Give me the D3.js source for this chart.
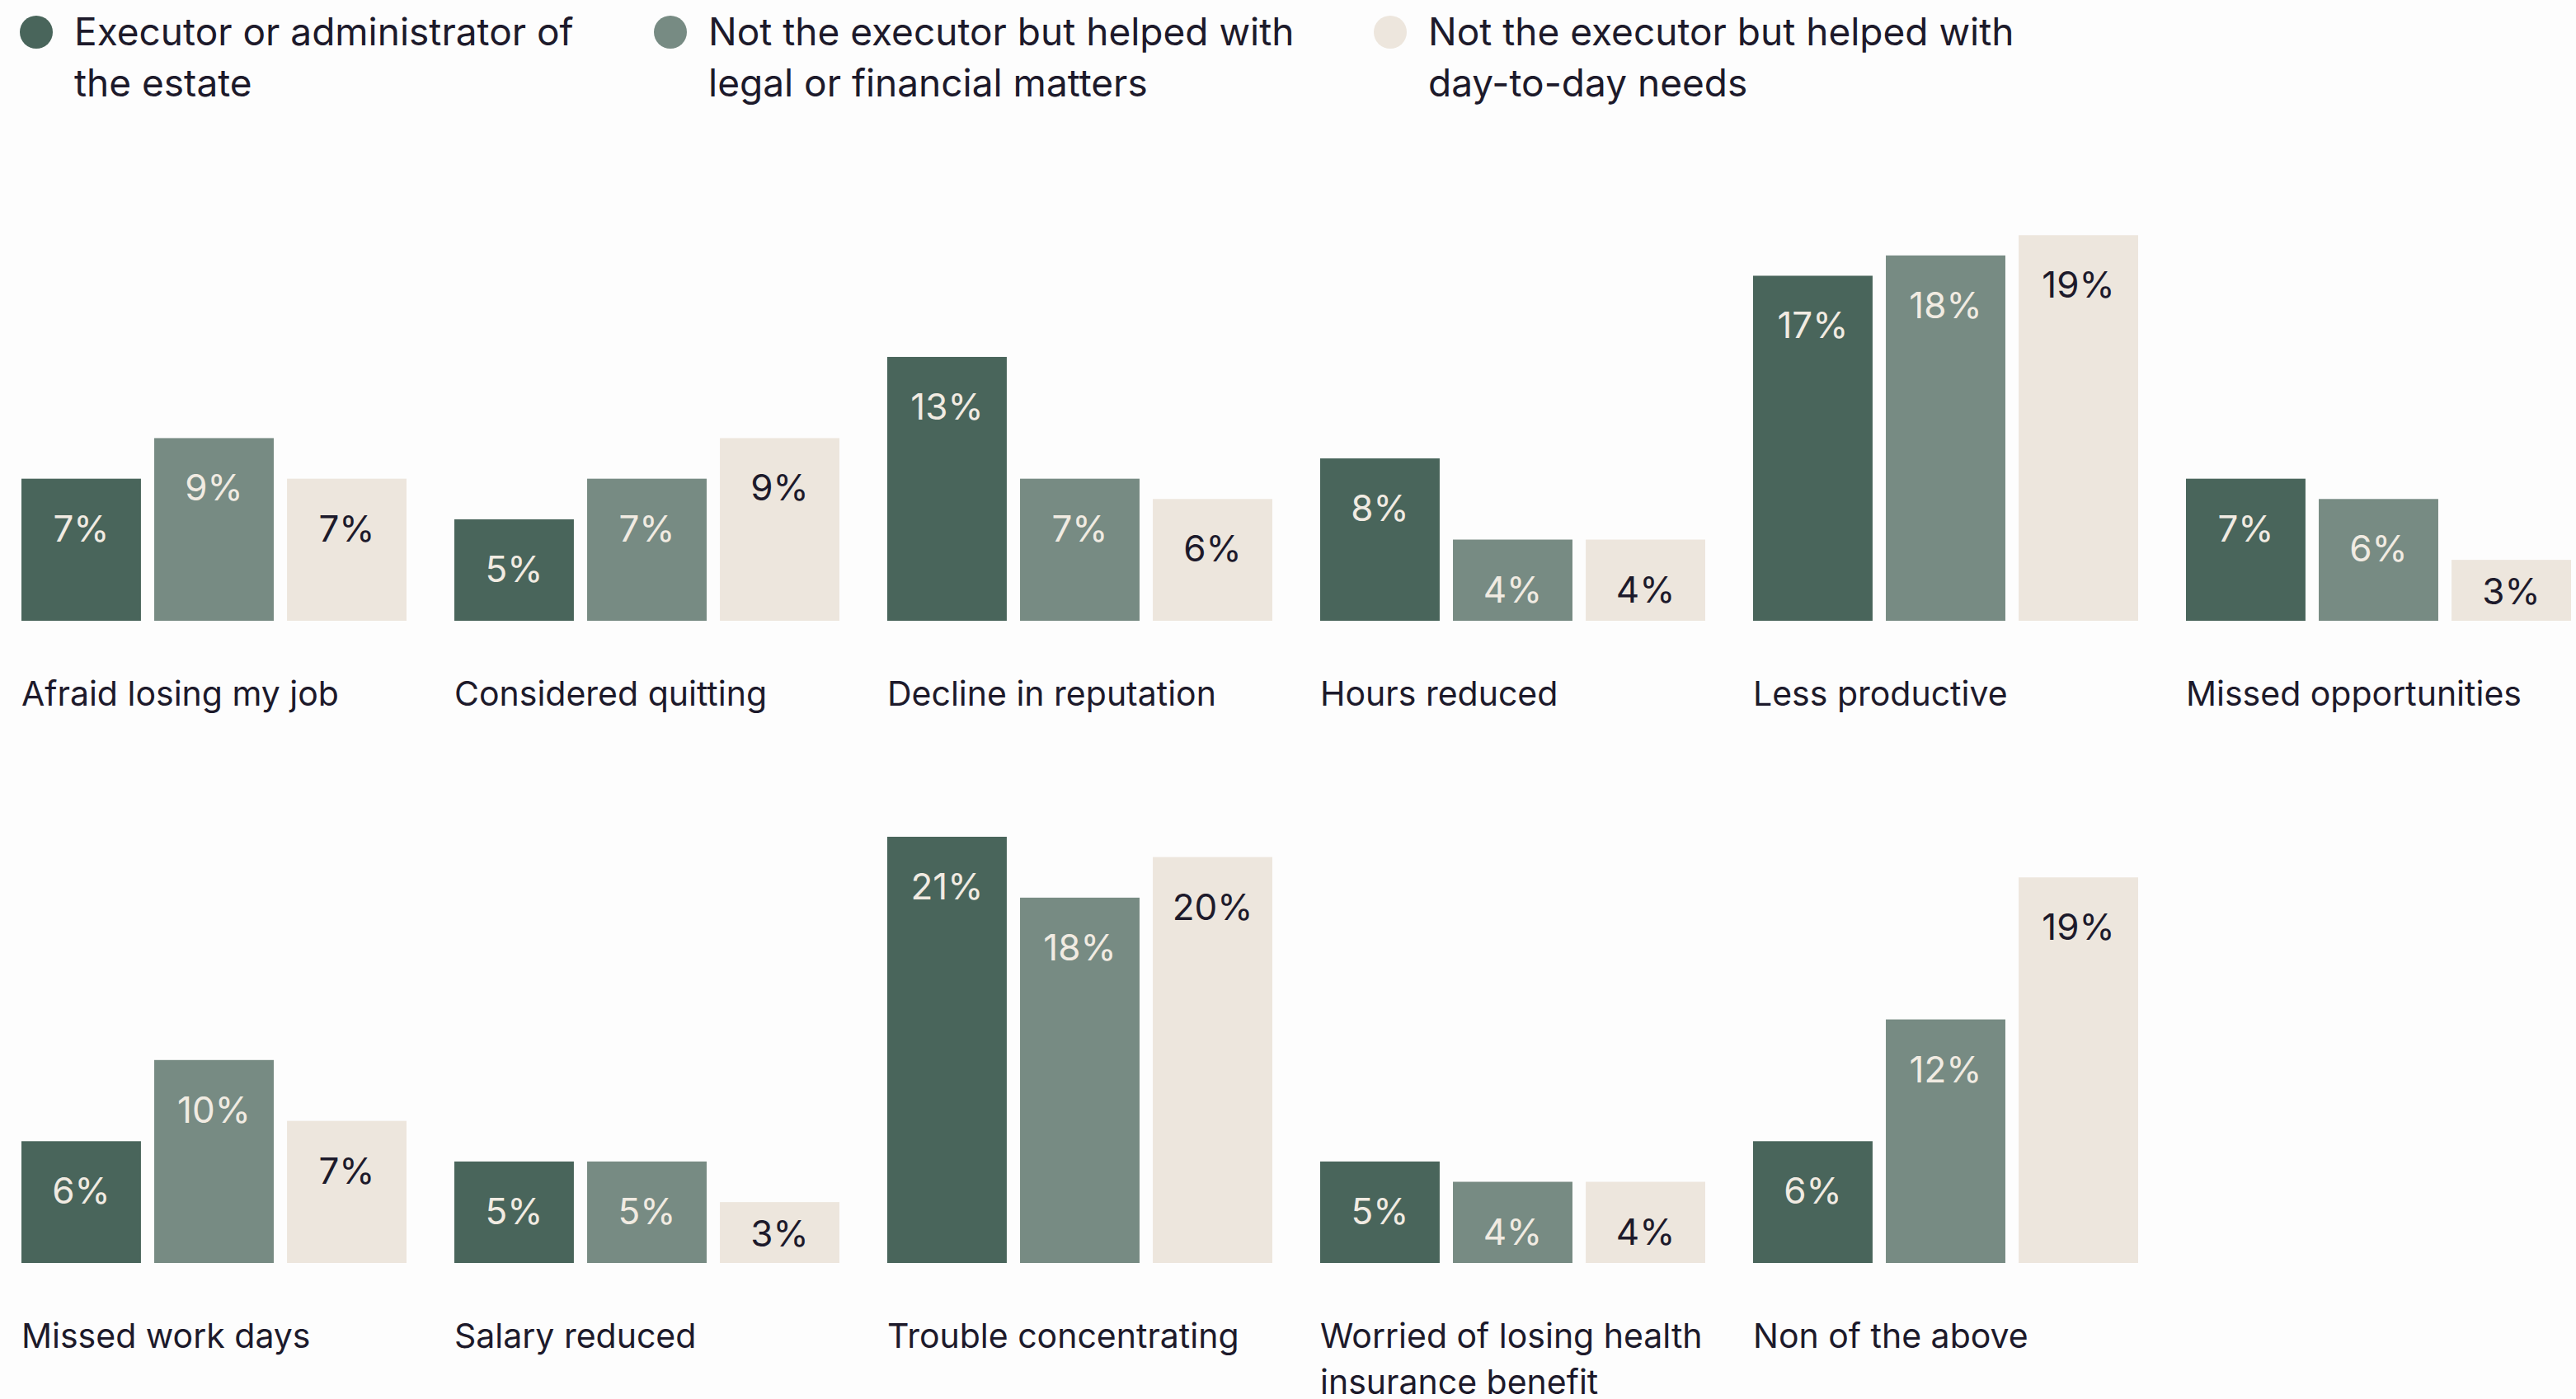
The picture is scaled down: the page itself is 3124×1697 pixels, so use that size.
<!DOCTYPE html>
<html>
<head>
<meta charset="utf-8">
<script src="https://cdn.jsdelivr.net/npm/d3@7"></script>
<style>
  html, body { margin: 0; padding: 0; background: #fdfdfd; }
  svg { display: block; }
  text { font-family: Inter, "Noto Sans", sans-serif; }
</style>
</head>
<body>
<svg id="chart" width="3124" height="1697"></svg>
<script>
// Impact on work, by role in settling the estate (percent of respondents)
const seriesNames = [
  ["Executor or administrator of", "the estate"],
  ["Not the executor but helped with", "legal or financial matters"],
  ["Not the executor but helped with", "day-to-day needs"]
];
const categories = [
  ["Afraid losing my job"],
  ["Considered quitting"],
  ["Decline in reputation"],
  ["Hours reduced"],
  ["Less productive"],
  ["Missed opportunities"],
  ["Missed work days"],
  ["Salary reduced"],
  ["Trouble concentrating"],
  ["Worried of losing health", "insurance benefit"],
  ["Non of the above"]
];
const executor      = [7, 5, 13, 8, 17, 7, 6, 5, 21, 5, 6];
const helpedLegal   = [9, 7, 7, 4, 18, 6, 10, 5, 18, 4, 12];
const helpedDaily   = [7, 9, 6, 4, 19, 3, 7, 3, 20, 4, 19];

const colors = ["#49655b", "#778b83", "#ede6dd"];
const labelColors = ["#f1ebe2", "#f1ebe2", "#1d1a2b"];
const textColor = "#1d1a2b";

const values = [executor, helpedLegal, helpedDaily];
const svg = d3.select("#chart");

// Legend
const legendX = [44, 813, 1686];
const legend = svg.append("g");
seriesNames.forEach((lines, i) => {
  const g = legend.append("g").attr("transform", `translate(${legendX[i]},0)`);
  g.append("circle").attr("cx", 0).attr("cy", 39).attr("r", 20).attr("fill", colors[i]);
  const t = g.append("text").attr("x", 46).attr("y", 55)
    .attr("font-size", 46).attr("fill", textColor);
  lines.forEach((l, k) => t.append("tspan").attr("x", 46).attr("dy", k === 0 ? 0 : 62).text(l));
});

// Small multiples: 6 columns, 2 rows
const nCols = 6;
const col = d3.scaleBand().domain(d3.range(nCols)).range([26, 3118]).paddingInner(58 / 525).paddingOuter(0);
const inner = d3.scaleBand().domain(d3.range(3)).range([0, col.bandwidth()]).paddingInner(0.1).paddingOuter(0);
const h = d3.scaleLinear().domain([0, 21]).range([0, 517]);
const rowBase = [753, 1532];

categories.forEach((cat, ci) => {
  const c = ci % nCols, r = Math.floor(ci / nCols);
  const base = rowBase[r];
  const g = svg.append("g").attr("transform", `translate(${col(c)},0)`);
  const data = values.map((v, si) => ({ si, v: v[ci] }));

  g.selectAll("rect").data(data).join("rect")
    .attr("x", d => inner(d.si))
    .attr("y", d => base - h(d.v))
    .attr("width", inner.bandwidth())
    .attr("height", d => h(d.v))
    .attr("fill", d => colors[d.si]);

  // value label sits near the bar top, but never drops below the short-bar position
  g.selectAll("text.val").data(data).join("text")
    .attr("class", "val")
    .attr("x", d => inner(d.si) + inner.bandwidth() / 2)
    .attr("y", d => Math.min(base - h(d.v) + 76, base - 20))
    .attr("text-anchor", "middle")
    .attr("font-size", 44)
    .attr("fill", d => labelColors[d.si])
    .text(d => d.v + "%");

  const t = g.append("text").attr("x", 0).attr("y", base + 103)
    .attr("font-size", 41).attr("fill", textColor);
  cat.forEach((l, k) => t.append("tspan").attr("x", 0).attr("dy", k === 0 ? 0 : 56).text(l));
});
</script>
</body>
</html>
